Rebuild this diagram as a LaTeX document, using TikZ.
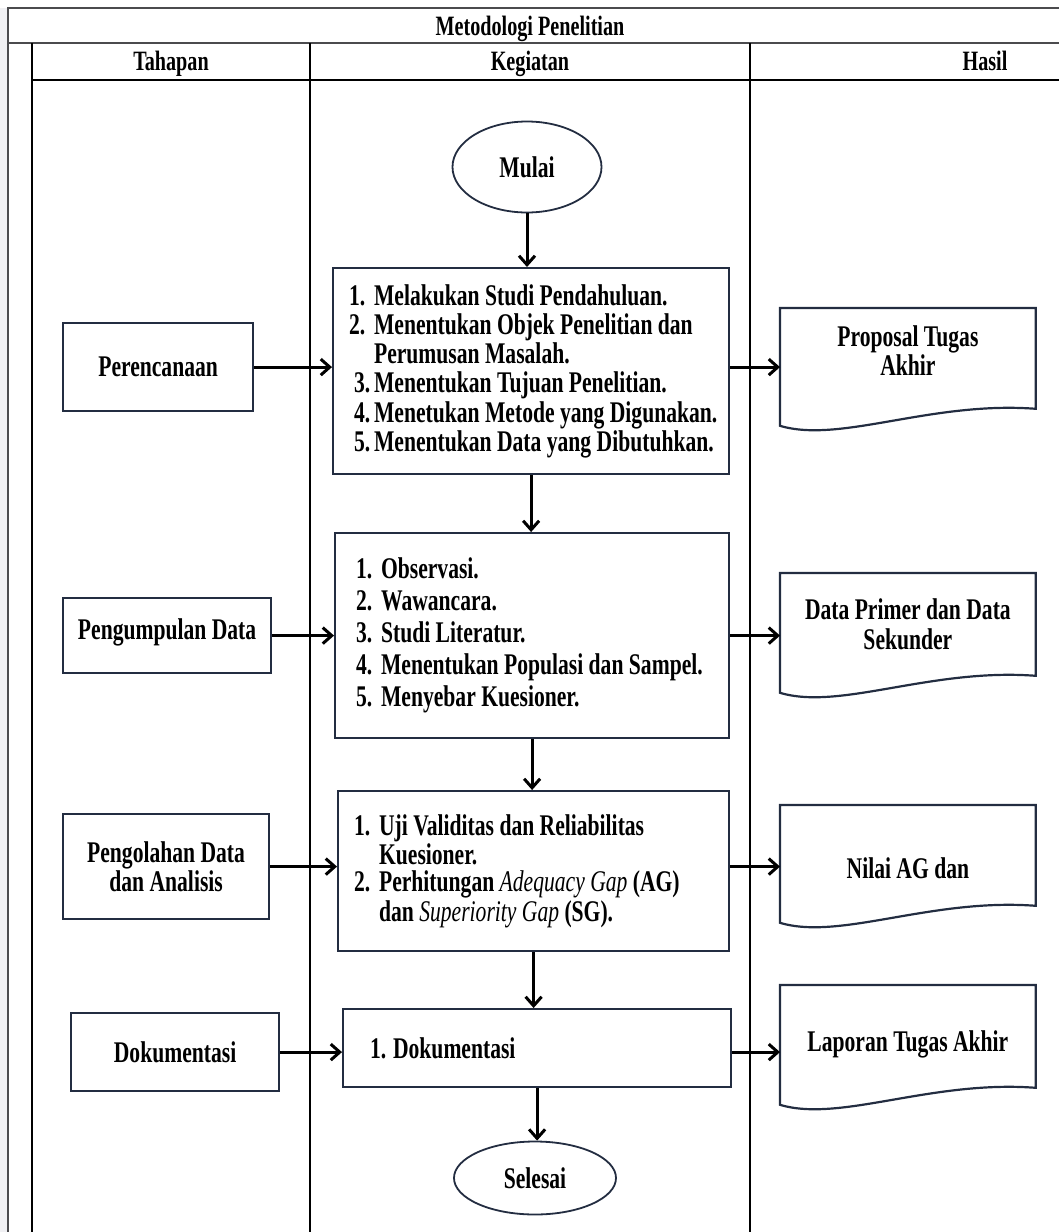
\documentclass[tikz,border=0pt]{standalone}
\usepackage{fontspec}
\setmainfont[FakeStretch=0.72]{Liberation Serif}
\usetikzlibrary{shapes.geometric,arrows.meta}

\definecolor{garisbox}{RGB}{35,45,65}
\definecolor{garistabel}{RGB}{75,75,78}
\definecolor{tepi}{RGB}{240,240,243}

% butir daftar: geser kiri, lebar nomor, nomor, teks
\newcommand{\butir}[4]{\hspace*{#1}\makebox[#2][l]{#3}#4}

\tikzset{
  huruf/.style={font=\fontsize{15}{12.5}\selectfont\bfseries},
  judul/.style={font=\fontsize{14}{14}\selectfont\bfseries, inner sep=0pt, anchor=base},
  kotak/.style={huruf, draw=garisbox, line width=1.1pt, rectangle, inner sep=0pt, align=center, anchor=north west},
  kegiatan/.style={kotak, align=flush left},
  oval/.style={huruf, draw=garisbox, line width=0.9pt, ellipse, inner sep=0pt},
  dokumen/.style={rectangle, inner sep=0pt, anchor=north west, minimum width=127.5pt},
  teksdok/.style={huruf, align=center},
  panah/.style={-{Straight Barb[length=4.5pt,width=8pt]}, line width=1.5pt},
}

\begin{document}
\begin{tikzpicture}[x=0.5pt,y=-0.5pt]
\useasboundingbox (0,0) rectangle (1059,1232);

% tabel
\fill[tepi] (0,8) rectangle (8,1232);
\draw[garistabel, line width=1pt] (8,1232) -- (8,8) -- (1059,8);
\draw[garistabel, line width=1pt] (8,43) -- (1059,43);
\draw[line width=0.7pt] (32,43) -- (32,1232);
\draw[line width=0.7pt] (32,80) -- (1059,80);
\draw[line width=0.7pt] (310,43) -- (310,1232);
\draw[line width=0.7pt] (750,43) -- (750,1232);

\node[judul] (judul) at (530,35) {Metodologi Penelitian};
\node[judul] (tahap) at (171,70) {Tahapan};
\node[judul] (giat) at (530,70) {Kegiatan};
\node[judul] (hasil) at (985,70) {Hasil};

% tahapan
\node[kotak, minimum width=95pt, minimum height=44pt] (rencana) at (62,322) {Perencanaan};
\node[kotak, minimum width=104pt, minimum height=37.5pt] (kumpul) at (62,597) {\raisebox{7pt}{Pengumpulan Data}};
\node[kotak, minimum width=103pt, minimum height=52.5pt] (olah) at (62,813) {Pengolahan Data\\dan Analisis};
\node[kotak, minimum width=104pt, minimum height=39pt] (dok) at (70,1012) {Dokumentasi};

% kegiatan
\node[oval, minimum width=74.5pt, minimum height=45.5pt] (mulai) at (527,167) {Mulai};

\node[kegiatan, font=\fontsize{15}{14.6}\selectfont\bfseries, text width=198pt, minimum height=103pt] (k1) at (332,267) {%
\butir{8pt}{12.5pt}{1.}{Melakukan Studi Pendahuluan.}\\
\butir{8pt}{12.5pt}{2.}{Menentukan Objek Penelitian dan}\\
\butir{20.5pt}{0pt}{}{Perumusan Masalah.}\\
\butir{10.5pt}{10pt}{3.}{Menentukan Tujuan Penelitian.}\\
\butir{10.5pt}{10pt}{4.}{Menetukan Metode yang Digunakan.}\\
\butir{10.5pt}{10pt}{5.}{Menentukan Data yang Dibutuhkan.}};

\node[kegiatan, font=\fontsize{15}{16}\selectfont\bfseries, text width=197pt, minimum height=102.5pt] (k2) at (334,532) {%
\butir{10.5pt}{12.5pt}{1.}{Observasi.}\\
\butir{10.5pt}{12.5pt}{2.}{Wawancara.}\\
\butir{10.5pt}{12.5pt}{3.}{Studi Literatur.}\\
\butir{10.5pt}{12.5pt}{4.}{Menentukan Populasi dan Sampel.}\\
\butir{10.5pt}{12.5pt}{5.}{Menyebar Kuesioner.}};

\node[kegiatan, font=\fontsize{15}{13.6}\selectfont\bfseries, text width=195.5pt, minimum height=80pt] (k3) at (337,790) {%
\butir{8pt}{12.5pt}{1.}{Uji Validitas dan Reliabilitas}\\
\butir{20.5pt}{0pt}{}{Kuesioner.}\\
\butir{8pt}{12.5pt}{2.}{Perhitungan {\mdseries\itshape Adequacy Gap} (AG)}\\
\butir{20.5pt}{0pt}{}{dan {\mdseries\itshape Superiority Gap} (SG).}};

\node[kegiatan, text width=194pt, minimum height=39pt] (k4) at (342,1008) {%
\butir{13.5pt}{11.5pt}{1.}{Dokumentasi}};

\node[oval, minimum width=81pt, minimum height=36.5pt] (selesai) at (535,1178) {Selesai};

% hasil
\node[dokumen, minimum height=50pt, label={[teksdok, yshift=4pt]center:Proposal Tugas\\Akhir}] (h1) at (780,308) {};
\node[dokumen, minimum height=51pt, label={[teksdok, font=\fontsize{15}{15}\selectfont\bfseries]center:Data Primer dan Data\\Sekunder}] (h2) at (780,573) {};
\node[dokumen, minimum height=50pt, label={[teksdok, yshift=-6.5pt]center:Nilai AG dan}] (h3) at (780,805) {};
\node[dokumen, minimum height=51pt, label={[teksdok, yshift=-4pt]center:Laporan Tugas Akhir}] (h4) at (780,985) {};
\foreach \h in {h1,h2,h3,h4}
  \draw[garisbox, line width=1.1pt] (\h.north west) -- (\h.north east) -- (\h.south east)
    .. controls +(-105,-8) and +(60,18) .. ([yshift=-8.5pt]\h.south west) -- cycle;

% panah
\draw[panah] (mulai.south) -- (mulai.south |- k1.north);
\draw[panah] (k1.south) -- (k1.south |- k2.north);
\draw[panah] (k2.south) -- (k2.south |- k3.north);
\draw[panah] (k3.south) -- (k3.south |- k4.north);
\draw[panah] (k4.south) -- (k4.south |- selesai.north);

\draw[panah] (rencana.east) -- (rencana.east -| k1.west);
\draw[panah] (kumpul.east) -- (kumpul.east -| k2.west);
\draw[panah] (olah.east) -- (olah.east -| k3.west);
\draw[panah] (dok.east) -- (dok.east -| k4.west);

\draw[panah] (k1.east |- rencana.east) -- (h1.west |- rencana.east);
\draw[panah] (k2.east |- kumpul.east) -- (h2.west |- kumpul.east);
\draw[panah] (k3.east |- olah.east) -- (h3.west |- olah.east);
\draw[panah] (k4.east |- dok.east) -- (h4.west |- dok.east);
\end{tikzpicture}
\end{document}
